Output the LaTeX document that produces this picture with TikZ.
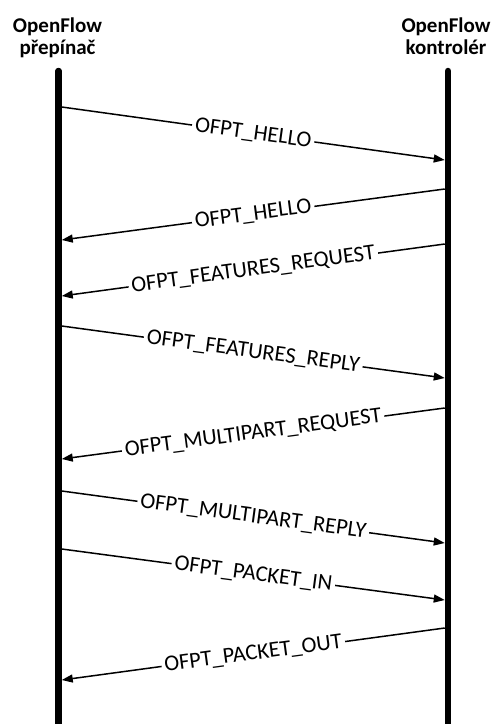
\documentclass[tikz,border=0pt]{standalone}
\usepackage{fontspec}
\setmainfont{Carlito}
\usetikzlibrary{arrows.meta}
\begin{document}
\begin{tikzpicture}[x=1pt,y=-1pt,
  lifeline/.style={line width=6.5pt,line cap=round},
  header/.style={align=center,font=\fontsize{21}{21.5}\selectfont\bfseries,inner sep=0pt},
  msg/.style={line width=1.5pt,-{Triangle[length=11pt,width=8pt]}},
  lbl/.style={sloped,midway,fill=white,inner xsep=3pt,inner ysep=1pt,font=\fontsize{22.5}{25}\selectfont}]
\useasboundingbox (0,0) rectangle (496,724);

% participants
\node[header,anchor=north] (sw) at (57.5,18) {OpenFlow\\přepínač};
\node[header,anchor=north] (ctl) at (446,18) {OpenFlow\\kontrolér};

% lifelines
\coordinate (swTop) at (58.5,71);
\coordinate (swBot) at (58.5,740);
\coordinate (ctlTop) at (448,71);
\coordinate (ctlBot) at (448,740);
\draw[lifeline] (swTop) -- (swBot);
\draw[lifeline] (ctlTop) -- (ctlBot);

% message end points on the lifelines
\foreach \n/\y in {1/107,2/240,3/296,4/326,5/459,6/491,7/549,8/680}
  \coordinate (s\n) at (61.75,\y);
\foreach \n/\y in {1/160,2/189,3/244,4/378,5/408,6/543,7/600,8/628}
  \coordinate (c\n) at (444.75,\y);

% messages
\draw[msg] (s1) -- node[lbl] {OFPT\_HELLO} (c1);
\draw[msg] (c2) -- node[lbl] {OFPT\_HELLO} (s2);
\draw[msg] (c3) -- node[lbl] {OFPT\_FEATURES\_REQUEST} (s3);
\draw[msg] (s4) -- node[lbl] {OFPT\_FEATURES\_REPLY} (c4);
\draw[msg] (c5) -- node[lbl] {OFPT\_MULTIPART\_REQUEST} (s5);
\draw[msg] (s6) -- node[lbl] {OFPT\_MULTIPART\_REPLY} (c6);
\draw[msg] (s7) -- node[lbl] {OFPT\_PACKET\_IN} (c7);
\draw[msg] (c8) -- node[lbl] {OFPT\_PACKET\_OUT} (s8);
\end{tikzpicture}
\end{document}
